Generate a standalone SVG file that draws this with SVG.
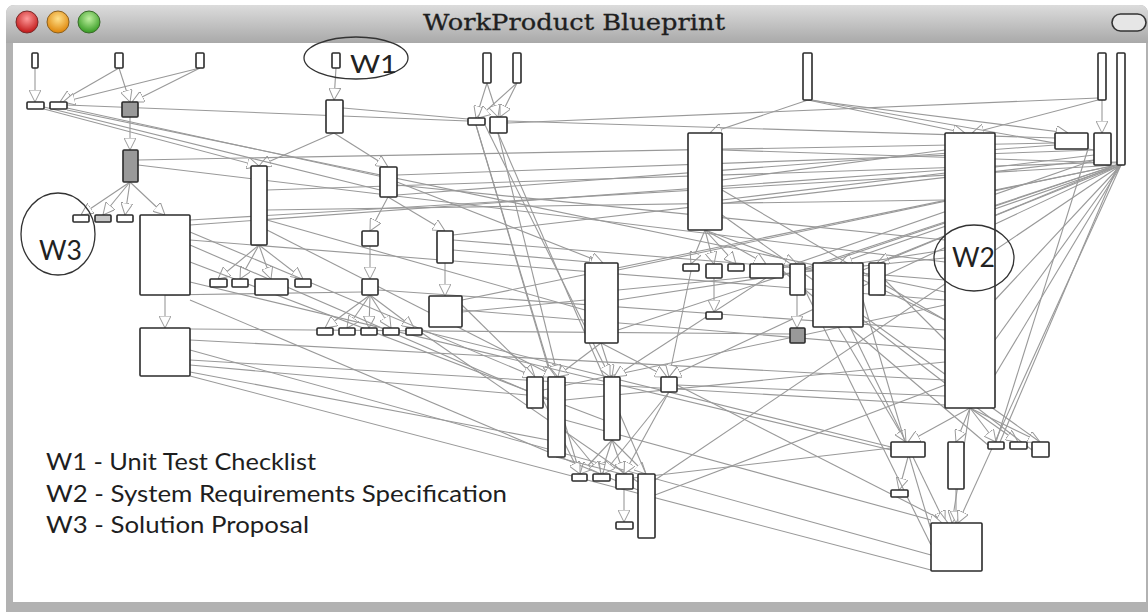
<svg xmlns="http://www.w3.org/2000/svg" width="1148" height="612" viewBox="0 0 1148 612">
<defs>
<linearGradient id="tb" x1="0" y1="0" x2="0" y2="1"><stop offset="0" stop-color="#dcdcdc"/><stop offset="1" stop-color="#a9a9a9"/></linearGradient>
<radialGradient id="gr" cx="0.5" cy="0.35" r="0.6"><stop offset="0" stop-color="#ff9a9a"/><stop offset="1" stop-color="#c41f1f"/></radialGradient>
<radialGradient id="go" cx="0.5" cy="0.35" r="0.6"><stop offset="0" stop-color="#ffe08a"/><stop offset="1" stop-color="#e08a10"/></radialGradient>
<radialGradient id="gg" cx="0.5" cy="0.35" r="0.6"><stop offset="0" stop-color="#bff0a0"/><stop offset="1" stop-color="#3ea02a"/></radialGradient>
<marker id="ar" viewBox="0 0 12 12" refX="12" refY="6" markerWidth="12" markerHeight="12" markerUnits="userSpaceOnUse" orient="auto"><path d="M0,0 L12,6 L0,12 Z" fill="#fff" stroke="#9a9a9a" stroke-width="1"/></marker>
</defs>
<style>
.n{fill:#fff;stroke:#2b2b2b;stroke-width:1.6}
.g{fill:#999;stroke:#2b2b2b;stroke-width:1.6}
.c line{stroke:#999;stroke-width:1.1;fill:none}
.c .a{marker-end:url(#ar)}
.ell{fill:none;stroke:#333;stroke-width:1.3}
.wl{font-family:Lato,"Liberation Sans",sans-serif;fill:#222}
.lg{font-family:Lato,"Liberation Sans",sans-serif;font-size:24px;fill:#1e1e1e}
</style>
<rect x="0" y="0" width="1148" height="612" fill="#fff"/>
<g id="window">
<path d="M6,14 Q6,5 15,5 L1139,5 Q1148,5 1148,14 L1148,612 L6,612 Z" fill="#b2b2b2"/>
<path d="M6,14 Q6,5 15,5 L1139,5 Q1148,5 1148,14 L1148,43 L6,43 Z" fill="url(#tb)"/>
<rect x="13" y="43" width="1133" height="559" fill="#fff"/>
<circle cx="27" cy="22" r="11" fill="url(#gr)" stroke="#7a2a2a" stroke-width="1"/>
<circle cx="58" cy="22" r="11" fill="url(#go)" stroke="#8a6020" stroke-width="1"/>
<circle cx="89" cy="22" r="11" fill="url(#gg)" stroke="#3a6a2a" stroke-width="1"/>
<rect x="1112" y="14" width="34" height="17" rx="8.5" fill="#e6e6e6" stroke="#333" stroke-width="1.6"/>
<text x="423" y="30" font-family="'DejaVu Serif','Liberation Serif',serif" font-size="22" fill="#1f1f1f" stroke="#1f1f1f" stroke-width="0.3" textLength="302" lengthAdjust="spacingAndGlyphs">WorkProduct Blueprint</text>
</g>
<g id="connectors" class="c">
<line class="a" x1="35" y1="68" x2="35" y2="102"/>
<line class="a" x1="119" y1="68" x2="60" y2="102"/>
<line class="a" x1="119" y1="68" x2="130" y2="102"/>
<line class="a" x1="200" y1="68" x2="63" y2="102"/>
<line class="a" x1="200" y1="68" x2="132" y2="102"/>
<line class="a" x1="336" y1="68" x2="334" y2="100"/>
<line class="a" x1="130" y1="117" x2="130" y2="150"/>
<line class="a" x1="334" y1="133" x2="259" y2="166"/>
<line class="a" x1="334" y1="133" x2="388" y2="167"/>
<line class="a" x1="130" y1="182" x2="81" y2="215"/>
<line class="a" x1="130" y1="182" x2="103" y2="215"/>
<line class="a" x1="130" y1="182" x2="125" y2="215"/>
<line class="a" x1="130" y1="182" x2="165" y2="215"/>
<line class="a" x1="259" y1="245" x2="218" y2="279"/>
<line class="a" x1="259" y1="245" x2="240" y2="279"/>
<line class="a" x1="259" y1="245" x2="271" y2="279"/>
<line class="a" x1="259" y1="245" x2="303" y2="279"/>
<line class="a" x1="388" y1="197" x2="370" y2="231"/>
<line class="a" x1="388" y1="197" x2="445" y2="231"/>
<line class="a" x1="370" y1="246" x2="370" y2="279"/>
<line class="a" x1="370" y1="295" x2="325" y2="328"/>
<line class="a" x1="370" y1="295" x2="347" y2="328"/>
<line class="a" x1="370" y1="295" x2="369" y2="328"/>
<line class="a" x1="370" y1="295" x2="391" y2="328"/>
<line class="a" x1="370" y1="295" x2="414" y2="328"/>
<line class="a" x1="445" y1="263" x2="445" y2="296"/>
<line class="a" x1="165" y1="295" x2="165" y2="328"/>
<line class="a" x1="487" y1="83" x2="476" y2="118"/>
<line class="a" x1="487" y1="83" x2="498" y2="117"/>
<line class="a" x1="517" y1="83" x2="478" y2="118"/>
<line class="a" x1="517" y1="83" x2="500" y2="117"/>
<line class="a" x1="705" y1="230" x2="691" y2="264"/>
<line class="a" x1="705" y1="230" x2="714" y2="264"/>
<line class="a" x1="705" y1="230" x2="736" y2="264"/>
<line class="a" x1="705" y1="230" x2="766" y2="264"/>
<line class="a" x1="705" y1="230" x2="797" y2="264"/>
<line class="a" x1="714" y1="278" x2="714" y2="312"/>
<line class="a" x1="1102" y1="100" x2="1102" y2="133"/>
<line class="a" x1="970" y1="408" x2="908" y2="442"/>
<line class="a" x1="970" y1="408" x2="956" y2="442"/>
<line class="a" x1="970" y1="408" x2="996" y2="442"/>
<line class="a" x1="970" y1="408" x2="1018" y2="442"/>
<line class="a" x1="970" y1="408" x2="1040" y2="442"/>
<line class="a" x1="970" y1="408" x2="952" y2="523"/>
<line class="a" x1="908" y1="457" x2="899" y2="490"/>
<line class="a" x1="956" y1="489" x2="956" y2="523"/>
<line class="a" x1="612" y1="440" x2="580" y2="474"/>
<line class="a" x1="612" y1="440" x2="601" y2="474"/>
<line class="a" x1="612" y1="440" x2="624" y2="474"/>
<line class="a" x1="612" y1="440" x2="646" y2="474"/>
<line class="a" x1="624" y1="489" x2="624" y2="522"/>
<line class="a" x1="601" y1="343" x2="612" y2="377"/>
<line class="a" x1="601" y1="343" x2="556" y2="377"/>
<line class="a" x1="808" y1="100" x2="965" y2="133"/>
<line class="a" x1="808" y1="100" x2="710" y2="133"/>
<line class="a" x1="808" y1="100" x2="1068" y2="133"/>
<line class="a" x1="1098" y1="100" x2="972" y2="133"/>
<line class="a" x1="44" y1="109" x2="259" y2="166"/>
<line x1="67" y1="108" x2="388" y2="178"/>
<line x1="67" y1="110" x2="945" y2="292"/>
<line x1="67" y1="105" x2="468" y2="121"/>
<line x1="507" y1="121" x2="1055" y2="138"/>
<line x1="343" y1="108" x2="468" y2="119"/>
<line x1="507" y1="123" x2="1098" y2="98"/>
<line x1="138" y1="165" x2="945" y2="262"/>
<line x1="138" y1="160" x2="1055" y2="143"/>
<line x1="44" y1="107" x2="380" y2="190"/>
<line class="a" x1="1121" y1="165" x2="877" y2="263"/>
<line class="a" x1="1121" y1="165" x2="840" y2="263"/>
<line class="a" x1="1121" y1="165" x2="669" y2="377"/>
<line x1="1121" y1="165" x2="655" y2="480"/>
<line x1="1121" y1="165" x2="995" y2="300"/>
<line x1="1121" y1="165" x2="995" y2="340"/>
<line x1="1121" y1="165" x2="995" y2="375"/>
<line x1="1118" y1="165" x2="1000" y2="442"/>
<line class="a" x1="1121" y1="165" x2="958" y2="523"/>
<line x1="1088" y1="149" x2="996" y2="442"/>
<line x1="190" y1="225" x2="945" y2="170"/>
<line x1="190" y1="240" x2="945" y2="300"/>
<line x1="267" y1="210" x2="945" y2="200"/>
<line x1="397" y1="185" x2="945" y2="240"/>
<line x1="453" y1="240" x2="945" y2="280"/>
<line x1="462" y1="310" x2="945" y2="350"/>
<line x1="190" y1="340" x2="945" y2="380"/>
<line x1="190" y1="360" x2="945" y2="405"/>
<line x1="618" y1="290" x2="945" y2="258"/>
<line x1="722" y1="180" x2="945" y2="150"/>
<line x1="863" y1="280" x2="945" y2="320"/>
<line x1="885" y1="280" x2="945" y2="340"/>
<line x1="655" y1="495" x2="945" y2="385"/>
<line x1="565" y1="400" x2="945" y2="362"/>
<line x1="543" y1="390" x2="945" y2="305"/>
<line x1="677" y1="385" x2="945" y2="396"/>
<line x1="190" y1="220" x2="1117" y2="165"/>
<line x1="267" y1="190" x2="1117" y2="162"/>
<line x1="397" y1="175" x2="1094" y2="150"/>
<line x1="453" y1="235" x2="1094" y2="160"/>
<line x1="618" y1="270" x2="1117" y2="165"/>
<line x1="722" y1="200" x2="1094" y2="155"/>
<line x1="863" y1="270" x2="1117" y2="165"/>
<line x1="805" y1="270" x2="1117" y2="165"/>
<line x1="783" y1="268" x2="1094" y2="160"/>
<line x1="462" y1="300" x2="1117" y2="165"/>
<line x1="618" y1="330" x2="1117" y2="165"/>
<line x1="722" y1="150" x2="1117" y2="163"/>
<line x1="812" y1="100" x2="1094" y2="150"/>
<line class="a" x1="476" y1="125" x2="552" y2="377"/>
<line class="a" x1="498" y1="133" x2="558" y2="377"/>
<line x1="498" y1="133" x2="646" y2="474"/>
<line class="a" x1="485" y1="125" x2="610" y2="377"/>
<line x1="476" y1="125" x2="580" y2="474"/>
<line x1="462" y1="312" x2="585" y2="300"/>
<line class="a" x1="453" y1="250" x2="601" y2="263"/>
<line class="a" x1="462" y1="305" x2="535" y2="377"/>
<line x1="267" y1="220" x2="585" y2="310"/>
<line class="a" x1="267" y1="230" x2="556" y2="377"/>
<line class="a" x1="397" y1="182" x2="603" y2="263"/>
<line x1="190" y1="329" x2="790" y2="334"/>
<line x1="165" y1="295" x2="362" y2="292"/>
<line x1="190" y1="365" x2="527" y2="395"/>
<line x1="190" y1="372" x2="548" y2="440"/>
<line x1="190" y1="376" x2="931" y2="570"/>
<line x1="190" y1="350" x2="931" y2="555"/>
<line x1="190" y1="245" x2="548" y2="400"/>
<line x1="190" y1="262" x2="604" y2="420"/>
<line x1="190" y1="282" x2="891" y2="450"/>
<line x1="190" y1="300" x2="638" y2="490"/>
<line x1="378" y1="290" x2="945" y2="330"/>
<line x1="422" y1="331" x2="891" y2="447"/>
<line x1="422" y1="333" x2="638" y2="482"/>
<line class="a" x1="691" y1="271" x2="669" y2="377"/>
<line class="a" x1="797" y1="295" x2="797" y2="328"/>
<line class="a" x1="766" y1="278" x2="614" y2="377"/>
<line x1="618" y1="300" x2="945" y2="250"/>
<line class="a" x1="601" y1="343" x2="667" y2="377"/>
<line class="a" x1="838" y1="327" x2="906" y2="442"/>
<line class="a" x1="850" y1="327" x2="945" y2="523"/>
<line x1="722" y1="190" x2="945" y2="320"/>
<line class="a" x1="677" y1="385" x2="948" y2="523"/>
<line class="a" x1="565" y1="420" x2="942" y2="523"/>
<line class="a" x1="669" y1="392" x2="624" y2="474"/>
<line class="a" x1="669" y1="392" x2="603" y2="474"/>
<line x1="633" y1="478" x2="891" y2="448"/>
<line class="a" x1="543" y1="400" x2="580" y2="474"/>
<line class="a" x1="565" y1="430" x2="601" y2="474"/>
<line x1="556" y1="457" x2="622" y2="474"/>
<line class="a" x1="190" y1="232" x2="535" y2="377"/>
<line x1="863" y1="300" x2="931" y2="530"/>
<line x1="805" y1="290" x2="931" y2="545"/>
<line x1="722" y1="215" x2="1040" y2="442"/>
<line x1="783" y1="271" x2="988" y2="445"/>
<line x1="863" y1="320" x2="1032" y2="450"/>
<line x1="397" y1="195" x2="1055" y2="145"/>
</g>
<g id="n1"><rect class="n" x="32" y="53" width="6" height="15" rx="1"/></g>
<g id="n2"><rect class="n" x="115" y="53" width="8" height="15" rx="1"/></g>
<g id="n3"><rect class="n" x="196" y="53" width="8" height="15" rx="1"/></g>
<g id="n4"><rect class="n" x="332" y="53" width="8" height="15" rx="1"/></g>
<g id="n5"><rect class="n" x="483" y="53" width="8" height="30" rx="1"/></g>
<g id="n6"><rect class="n" x="513" y="53" width="8" height="30" rx="1"/></g>
<g id="n7"><rect class="n" x="803" y="53" width="9" height="47" rx="1"/></g>
<g id="n8"><rect class="n" x="1098" y="53" width="8" height="47" rx="1"/></g>
<g id="n9"><rect class="n" x="1117" y="53" width="8" height="112" rx="1"/></g>
<g id="n10"><rect class="n" x="27" y="102" width="17" height="7" rx="1"/></g>
<g id="n11"><rect class="n" x="50" y="102" width="17" height="7" rx="1"/></g>
<g id="n12"><rect class="g" x="122" y="102" width="16" height="15" rx="1"/></g>
<g id="n13"><rect class="n" x="326" y="100" width="17" height="33" rx="1"/></g>
<g id="n14"><rect class="n" x="468" y="118" width="17" height="7" rx="1"/></g>
<g id="n15"><rect class="n" x="490" y="117" width="17" height="16" rx="1"/></g>
<g id="n16"><rect class="g" x="123" y="150" width="15" height="32" rx="1"/></g>
<g id="n17"><rect class="n" x="251" y="166" width="16" height="79" rx="1"/></g>
<g id="n18"><rect class="n" x="380" y="167" width="17" height="30" rx="1"/></g>
<g id="n19"><rect class="n" x="688" y="133" width="34" height="97" rx="1"/></g>
<g id="n20"><rect class="n" x="945" y="133" width="50" height="275" rx="1"/></g>
<g id="n21"><rect class="n" x="1055" y="133" width="33" height="16" rx="1"/></g>
<g id="n22"><rect class="n" x="1094" y="133" width="17" height="32" rx="1"/></g>
<g id="n23"><rect class="n" x="73" y="215" width="16" height="7" rx="1"/></g>
<g id="n24"><rect class="n" x="95" y="215" width="16" height="7" rx="1" style="fill:#c8c8c8"/></g>
<g id="n25"><rect class="n" x="117" y="215" width="16" height="7" rx="1"/></g>
<g id="n26"><rect class="n" x="140" y="215" width="50" height="80" rx="1"/></g>
<g id="n27"><rect class="n" x="362" y="231" width="16" height="15" rx="1"/></g>
<g id="n28"><rect class="n" x="437" y="231" width="16" height="32" rx="1"/></g>
<g id="n29"><rect class="n" x="210" y="279" width="17" height="8" rx="1"/></g>
<g id="n30"><rect class="n" x="232" y="279" width="16" height="8" rx="1"/></g>
<g id="n31"><rect class="n" x="255" y="279" width="33" height="16" rx="1"/></g>
<g id="n32"><rect class="n" x="295" y="279" width="16" height="8" rx="1"/></g>
<g id="n33"><rect class="n" x="362" y="279" width="16" height="16" rx="1"/></g>
<g id="n34"><rect class="n" x="429" y="296" width="33" height="31" rx="1"/></g>
<g id="n35"><rect class="n" x="585" y="263" width="33" height="80" rx="1"/></g>
<g id="n36"><rect class="n" x="683" y="264" width="16" height="7" rx="1"/></g>
<g id="n37"><rect class="n" x="706" y="264" width="16" height="14" rx="1"/></g>
<g id="n38"><rect class="n" x="728" y="264" width="16" height="7" rx="1"/></g>
<g id="n39"><rect class="n" x="750" y="264" width="33" height="14" rx="1"/></g>
<g id="n40"><rect class="n" x="790" y="264" width="15" height="31" rx="1"/></g>
<g id="n41"><rect class="n" x="813" y="263" width="50" height="64" rx="1"/></g>
<g id="n42"><rect class="n" x="869" y="263" width="16" height="32" rx="1"/></g>
<g id="n43"><rect class="n" x="706" y="312" width="16" height="7" rx="1"/></g>
<g id="n44"><rect class="g" x="790" y="328" width="15" height="15" rx="1"/></g>
<g id="n45"><rect class="n" x="140" y="328" width="50" height="48" rx="1"/></g>
<g id="n46"><rect class="n" x="317" y="328" width="16" height="7" rx="1"/></g>
<g id="n47"><rect class="n" x="339" y="328" width="16" height="7" rx="1"/></g>
<g id="n48"><rect class="n" x="361" y="328" width="16" height="7" rx="1"/></g>
<g id="n49"><rect class="n" x="383" y="328" width="16" height="7" rx="1"/></g>
<g id="n50"><rect class="n" x="406" y="328" width="16" height="7" rx="1"/></g>
<g id="n51"><rect class="n" x="527" y="377" width="16" height="31" rx="1"/></g>
<g id="n52"><rect class="n" x="548" y="377" width="17" height="80" rx="1"/></g>
<g id="n53"><rect class="n" x="604" y="377" width="16" height="63" rx="1"/></g>
<g id="n54"><rect class="n" x="661" y="377" width="16" height="15" rx="1"/></g>
<g id="n55"><rect class="n" x="891" y="442" width="34" height="15" rx="1"/></g>
<g id="n56"><rect class="n" x="948" y="442" width="16" height="47" rx="1"/></g>
<g id="n57"><rect class="n" x="988" y="442" width="16" height="7" rx="1"/></g>
<g id="n58"><rect class="n" x="1010" y="442" width="17" height="7" rx="1"/></g>
<g id="n59"><rect class="n" x="1032" y="442" width="17" height="15" rx="1"/></g>
<g id="n60"><rect class="n" x="572" y="474" width="15" height="7" rx="1"/></g>
<g id="n61"><rect class="n" x="593" y="474" width="17" height="7" rx="1"/></g>
<g id="n62"><rect class="n" x="616" y="474" width="17" height="15" rx="1"/></g>
<g id="n63"><rect class="n" x="638" y="474" width="17" height="64" rx="1"/></g>
<g id="n64"><rect class="n" x="616" y="522" width="17" height="7" rx="1"/></g>
<g id="n65"><rect class="n" x="891" y="490" width="17" height="7" rx="1"/></g>
<g id="n66"><rect class="n" x="931" y="523" width="51" height="48" rx="1"/></g>
<g id="w1">
<ellipse class="ell" cx="356" cy="58" rx="52" ry="21"/>
<text class="wl" x="350" y="73" font-size="25" textLength="47" lengthAdjust="spacingAndGlyphs">W1</text>
</g>
<g id="w2">
<ellipse class="ell" cx="974" cy="258" rx="40" ry="33"/>
<text class="wl" x="952" y="267" font-size="26" textLength="43" lengthAdjust="spacingAndGlyphs">W2</text>
</g>
<g id="w3">
<ellipse class="ell" cx="58" cy="234" rx="37" ry="41"/>
<text class="wl" x="39" y="260" font-size="26" textLength="43" lengthAdjust="spacingAndGlyphs">W3</text>
</g>
<g id="legend">
<text class="lg" x="46" y="470" textLength="270" lengthAdjust="spacingAndGlyphs">W1 - Unit Test Checklist</text>
<text class="lg" x="46" y="502" textLength="461" lengthAdjust="spacingAndGlyphs">W2 - System Requirements Specification</text>
<text class="lg" x="46" y="533" textLength="263" lengthAdjust="spacingAndGlyphs">W3 - Solution Proposal</text>
</g>
</svg>
